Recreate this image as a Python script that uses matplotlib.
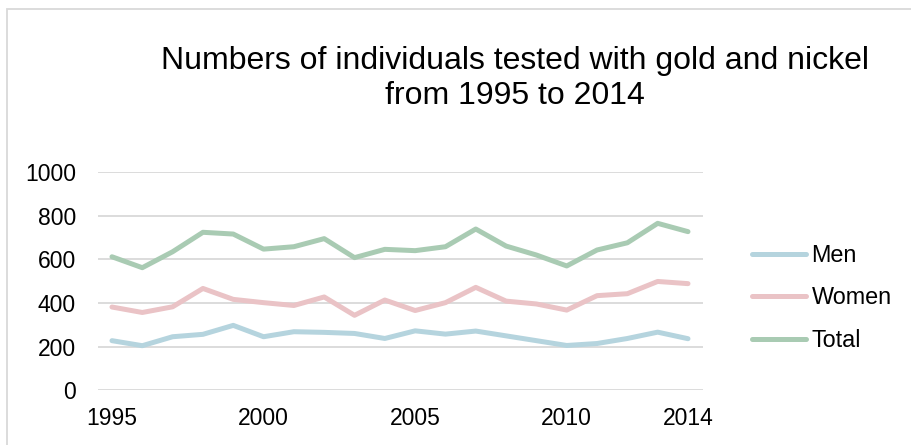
import matplotlib
matplotlib.use('Agg')
import matplotlib.pyplot as plt
from matplotlib.patches import Rectangle

years = list(range(1995, 2015))
men = [228, 205, 246, 257, 298, 246, 269, 266, 261, 238,
       273, 258, 272, 250, 228, 206, 215, 238, 267, 237]
women = [382, 357, 383, 467, 417, 402, 389, 428, 344, 414,
         366, 402, 472, 409, 396, 368, 434, 443, 499, 489]
total = [612, 562, 635, 724, 716, 647, 658, 695, 608, 646,
         640, 658, 739, 661, 620, 570, 643, 676, 765, 727]
x_ticks = [1995, 2000, 2005, 2010, 2014]
y_ticks = [0, 200, 400, 600, 800, 1000]

plt.rcParams['font.family'] = ['Liberation Sans', 'DejaVu Sans']

fig = plt.figure(figsize=(9.12, 4.45), dpi=100)
ax = fig.add_axes([0.1075, 0.1225, 0.6635, 0.491])

ax.plot(years, men, color='#b5d4de', lw=3.6, label='Men', solid_capstyle='round')
ax.plot(years, women, color='#eac3c6', lw=3.6, label='Women', solid_capstyle='round')
ax.plot(years, total, color='#a9cbb3', lw=3.6, label='Total', solid_capstyle='round')

ax.set_xlim(1994.54, 2014.5)
ax.set_ylim(0, 1000)
ax.set_xticks(x_ticks)
ax.set_yticks(y_ticks)
ax.tick_params(axis='both', length=0, labelsize=16.5)
ax.tick_params(axis='y', pad=16)
ax.tick_params(axis='x', pad=12)
ax.grid(True, axis='y', color='#d9d9d9', lw=1.3)
ax.set_axisbelow(True)
for s in ax.spines.values():
    s.set_visible(False)

fig.text(0.565, 0.8236, 'Numbers of individuals tested with gold and nickel\nfrom 1995 to 2014',
         ha='center', va='center', fontsize=23, linespacing=1.25)

ax.legend(loc='center left', bbox_to_anchor=(752 / 912, 1 - 298 / 445),
          bbox_transform=fig.transFigure, frameon=False, fontsize=16.8,
          handlelength=2.3, handletextpad=0.25, labelspacing=0.83,
          borderpad=0, borderaxespad=0)

fig.patches.append(Rectangle((7 / 912, -0.1), 1.2, 1 - 9 / 445 + 0.1,
                             transform=fig.transFigure, fill=False,
                             edgecolor='#d9d9d9', lw=1.3))

fig.savefig('out.png', dpi=100)
